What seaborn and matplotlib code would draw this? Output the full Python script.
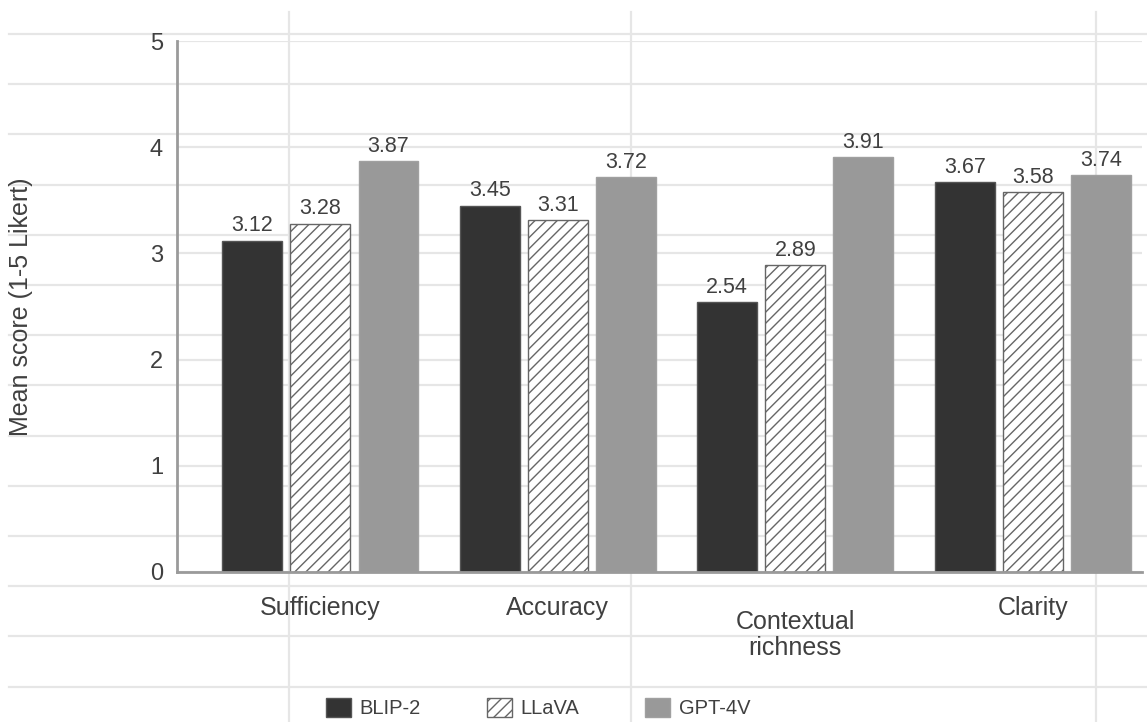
import matplotlib
matplotlib.use("Agg")
import matplotlib.pyplot as plt
import matplotlib.transforms as mtransforms
from matplotlib.lines import Line2D
from matplotlib.patches import Patch
import numpy as np
import pandas as pd
import seaborn as sns

categories = ["Sufficiency", "Accuracy", "Contextual\nrichness", "Clarity"]
models = ["BLIP-2", "LLaVA", "GPT-4V"]
blip2 = [3.12, 3.45, 2.54, 3.67]
llava = [3.28, 3.31, 2.89, 3.58]
gpt4v = [3.87, 3.72, 3.91, 3.74]
y_ticks = [0, 1, 2, 3, 4, 5]
y_label = "Mean score (1-5 Likert)"

colors = {"BLIP-2": "#333333", "LLaVA": "#ffffff", "GPT-4V": "#999999"}
edges = {"BLIP-2": "#555555", "LLaVA": "#666666", "GPT-4V": "#a0a0a0"}

df = pd.DataFrame({
    "category": np.repeat(categories, 3),
    "model": models * len(categories),
    "score": [v for trio in zip(blip2, llava, gpt4v) for v in trio],
})

plt.rcParams["font.family"] = ["Liberation Sans", "DejaVu Sans"]
plt.rcParams["hatch.linewidth"] = 1.0

W, H = 1147, 722
fig = plt.figure(figsize=(W / 100, H / 100), dpi=100)
fig.patch.set_facecolor("white")

# background sheet-like grid
for yy in np.arange(34, 700, 50.2):
    fig.add_artist(Line2D([9 / W, 1], [1 - yy / H] * 2, transform=fig.transFigure,
                          color="#e6e6e6", lw=1.6, zorder=-5))
for xx in [289, 631, 1096]:
    fig.add_artist(Line2D([xx / W] * 2, [0, 1 - 12 / H], transform=fig.transFigure,
                          color="#e6e6e6", lw=1.6, zorder=-5))

left, right, top, bottom = 177, 1142, 41, 572
ax = fig.add_axes([left / W, 1 - bottom / H, (right - left) / W, (bottom - top) / H])
ax.patch.set_alpha(0)

sns.barplot(data=df, x="category", y="score", hue="model", order=categories,
            hue_order=models, palette=[colors[m] for m in models],
            width=0.86, gap=0.12, linewidth=1.0, edgecolor="#666666",
            saturation=1, legend=False, ax=ax, zorder=3)

for cont, m in zip(ax.containers, models):
    for p in cont:
        p.set_facecolor(colors[m])
        p.set_edgecolor(edges[m])
        if m == "LLaVA":
            p.set_hatch("///")
    ax.bar_label(cont, fmt="%.2f", padding=3, fontsize=15.5, color="#404040")

ax.set_ylim(0, 5)
ax.set_xlim(-0.604, 3.46)
ax.set_yticks(y_ticks)
ax.set_yticklabels([str(t) for t in y_ticks], fontsize=17, color="#404040")
ax.tick_params(axis="y", length=0, pad=10)
ax.tick_params(axis="x", length=0)
ax.set_xticks(range(len(categories)))
ax.set_xticklabels([])
ax.set_xlabel("")
ax.set_ylabel(y_label, fontsize=18, color="#404040")
ax.yaxis.set_label_coords((33 - left) / (right - left), 0.5)

ax.yaxis.grid(True, color="#e6e6e6", lw=1.6)
ax.xaxis.grid(False)
ax.set_axisbelow(True)
for s in ["top", "right"]:
    ax.spines[s].set_visible(False)
for s in ["left", "bottom"]:
    ax.spines[s].set_color("#9a9a9a")
    ax.spines[s].set_linewidth(2)
    ax.spines[s].set_zorder(4)

trans = mtransforms.blended_transform_factory(ax.transData, ax.transAxes)
for i, cat in enumerate(categories):
    nlines = cat.count("\n") + 1
    ypos = -0.045 if nlines == 1 else -0.071
    ax.text(i, ypos, cat, transform=trans, ha="center", va="top", fontsize=18,
            color="#404040", linespacing=1.1)

handles = []
for m in models:
    handles.append(Patch(facecolor=colors[m], edgecolor=edges[m],
                         hatch="///" if m == "LLaVA" else None, lw=1))
fig.legend(handles, models, loc="center", bbox_to_anchor=(538 / W, 1 - 708 / H),
           ncol=3, frameon=False, fontsize=14.5, handlelength=1.25, handleheight=1.05,
           handletextpad=0.4, columnspacing=3.3, labelcolor="#404040")

fig.savefig("out.png", dpi=100)
